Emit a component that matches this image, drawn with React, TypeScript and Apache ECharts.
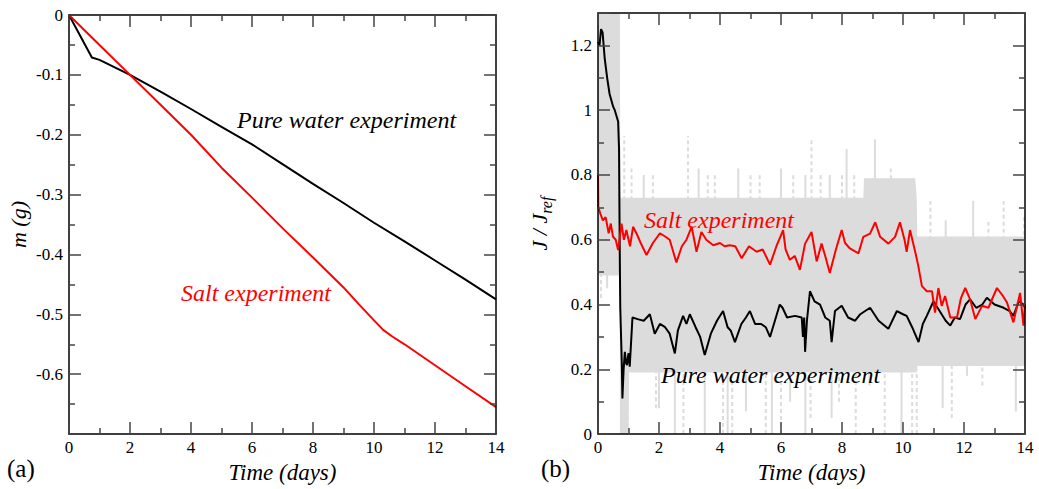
import React, { useEffect, useRef } from "react";
import * as echarts from "echarts";

// ---- Panel (a): mass loss ----
const massT = [0, 0.75, 1.0, 2, 3, 4, 5, 6, 7, 8, 9, 10, 11, 12, 13, 14];
const massPure = [0, -0.071, -0.075, -0.1, -0.128, -0.157, -0.187, -0.216, -0.249, -0.282, -0.314, -0.347, -0.378, -0.41, -0.442, -0.475];
const saltT = [0, 1, 2, 3, 4, 5, 6, 7, 8, 8.5, 9, 9.5, 10, 10.3, 10.6, 11, 12, 13, 14];
const massSalt = [0, -0.05, -0.1, -0.15, -0.2, -0.255, -0.305, -0.356, -0.405, -0.43, -0.455, -0.483, -0.51, -0.526, -0.537, -0.55, -0.585, -0.62, -0.655];

// ---- Panel (b): normalized flux ----
const fluxPure: number[][] = [
  [0, 1.21], [0.05, 1.2], [0.1, 1.25], [0.15, 1.24], [0.22, 1.16], [0.3, 1.1], [0.38, 1.05], [0.5, 1.01], [0.55, 1.0],
  [0.66, 0.965], [0.69, 0.88], [0.71, 0.6], [0.73, 0.39], [0.78, 0.22], [0.8, 0.11], [0.84, 0.2], [0.88, 0.254],
  [0.92, 0.22], [0.95, 0.213], [1.0, 0.25], [1.04, 0.208], [1.13, 0.36], [1.3, 0.355], [1.5, 0.35], [1.7, 0.37],
  [1.86, 0.31], [2.03, 0.34], [2.2, 0.33], [2.35, 0.31], [2.52, 0.249], [2.62, 0.32], [2.79, 0.365], [2.9, 0.34],
  [3.01, 0.37], [3.2, 0.33], [3.35, 0.3], [3.5, 0.244], [3.7, 0.31], [3.9, 0.35], [4.1, 0.38], [4.25, 0.33],
  [4.35, 0.32], [4.49, 0.284], [4.7, 0.34], [4.85, 0.36], [4.98, 0.38], [5.15, 0.34], [5.35, 0.34], [5.5, 0.33],
  [5.64, 0.3], [5.8, 0.35], [5.96, 0.4], [6.05, 0.39], [6.2, 0.36], [6.46, 0.365], [6.68, 0.36], [6.72, 0.3],
  [6.76, 0.36], [6.79, 0.254], [6.85, 0.35], [6.95, 0.441], [7.1, 0.41], [7.28, 0.4], [7.45, 0.36], [7.6, 0.35],
  [7.66, 0.284], [7.77, 0.38], [7.99, 0.396], [8.2, 0.36], [8.43, 0.35], [8.6, 0.37], [8.92, 0.39], [9.2, 0.35],
  [9.52, 0.325], [9.8, 0.38], [10.0, 0.37], [10.12, 0.365], [10.3, 0.33], [10.51, 0.284], [10.65, 0.34],
  [10.78, 0.365], [11.0, 0.41], [11.2, 0.38], [11.4, 0.35], [11.55, 0.335], [11.7, 0.36], [11.87, 0.355],
  [12.05, 0.4], [12.2, 0.416], [12.4, 0.39], [12.6, 0.4], [12.75, 0.421], [13.0, 0.4], [13.3, 0.39], [13.5, 0.38],
  [13.62, 0.365], [13.8, 0.41], [13.95, 0.4], [14, 0.39],
];
const fluxSalt: number[][] = [
  [0, 0.8], [0.01, 0.7], [0.08, 0.68], [0.16, 0.66], [0.25, 0.67], [0.35, 0.62], [0.42, 0.65], [0.49, 0.61],
  [0.58, 0.6], [0.66, 0.568], [0.77, 0.65], [0.85, 0.6], [0.93, 0.63], [1.05, 0.58], [1.15, 0.64], [1.26, 0.62],
  [1.4, 0.59], [1.59, 0.553], [1.8, 0.59], [2.03, 0.62], [2.2, 0.61], [2.35, 0.6], [2.57, 0.53], [2.75, 0.58],
  [2.9, 0.6], [3.07, 0.64], [3.23, 0.563], [3.39, 0.624], [3.55, 0.6], [3.78, 0.583], [4.0, 0.59], [4.15, 0.58],
  [4.32, 0.583], [4.5, 0.58], [4.71, 0.543], [4.95, 0.58], [5.2, 0.563], [5.4, 0.57], [5.64, 0.523], [5.85, 0.58],
  [6.07, 0.63], [6.15, 0.57], [6.29, 0.538], [6.45, 0.55], [6.62, 0.507], [6.79, 0.588], [7.0, 0.624], [7.17, 0.533],
  [7.33, 0.588], [7.45, 0.55], [7.6, 0.497], [7.8, 0.57], [7.99, 0.63], [8.1, 0.59], [8.26, 0.573], [8.54, 0.558],
  [8.7, 0.609], [8.92, 0.619], [9.09, 0.654], [9.25, 0.609], [9.52, 0.588], [9.74, 0.609], [9.9, 0.654], [10.05, 0.6],
  [10.12, 0.563], [10.23, 0.63], [10.4, 0.563], [10.5, 0.52], [10.62, 0.457], [10.78, 0.441], [10.95, 0.441],
  [11.05, 0.375], [11.16, 0.451], [11.27, 0.396], [11.38, 0.426], [11.55, 0.36], [11.77, 0.36], [11.9, 0.42],
  [12.04, 0.451], [12.2, 0.416], [12.37, 0.355], [12.59, 0.396], [12.8, 0.39], [13.08, 0.451], [13.25, 0.43],
  [13.41, 0.406], [13.62, 0.345], [13.75, 0.4], [13.84, 0.436], [13.95, 0.335], [14, 0.4],
];

// raw (unsmoothed) flux scatter: envelope band + individual spikes
const bandT = [0, 0.72, 0.73, 1.0, 1.02, 8.7, 8.72, 10.4, 10.45, 10.47, 14];
const bandLo = [0.49, 0.49, 0, 0, 0.19, 0.19, 0.19, 0.19, 0.19, 0.21, 0.21];
const bandHi = [1.3, 1.3, 0.73, 0.73, 0.73, 0.73, 0.79, 0.79, 0.73, 0.61, 0.61];
const spikeT = [0.1, 0.3, 0.86, 1.1, 1.5, 1.8, 2.95, 3.3, 3.6, 3.83, 4.6, 5.0, 5.3, 6.0, 6.4, 6.8, 7.0, 7.3, 7.6, 8.0, 8.15, 8.4,
  9.08, 9.6, 10.9, 11.4, 12.3, 12.8, 13.3, 13.97,
  0.75, 0.8, 0.9, 0.97, 1.9, 2.0, 2.52, 2.8, 3.5, 4.1, 4.25, 4.4, 4.85, 5.5, 5.7, 6.0, 6.3, 6.8, 6.97, 7.66, 7.9, 8.45,
  8.9, 9.4, 9.95, 10.3, 10.45, 11.3, 11.6, 12.1, 12.6, 13.7];
const spikeLo = [0.42, 0.45, 0.7, 0.7, 0.7, 0.7, 0.7, 0.7, 0.7, 0.7, 0.7, 0.7, 0.7, 0.7, 0.7, 0.7, 0.7, 0.7, 0.7, 0.7, 0.7, 0.7,
  0.7, 0.7, 0.6, 0.6, 0.6, 0.6, 0.6, 0.55,
  0, 0, 0, 0, 0.08, 0.08, 0, 0, 0, 0, 0, 0, 0.07, 0, 0, 0, 0.1, 0, 0.05, 0.05, 0.1, 0,
  0.15, 0, 0, 0, 0, 0.08, 0.05, 0.18, 0.15, 0.07];
const spikeHi = [0.5, 0.5, 0.92, 0.82, 0.8, 0.8, 0.92, 0.82, 0.8, 0.8, 0.82, 0.8, 0.8, 0.82, 0.8, 0.8, 0.91, 0.8, 0.8, 0.8, 0.88, 0.8,
  0.91, 0.82, 0.72, 0.66, 0.72, 0.66, 0.72, 0.68,
  0.5, 0.3, 0.3, 0.3, 0.2, 0.2, 0.2, 0.2, 0.2, 0.2, 0.2, 0.2, 0.2, 0.2, 0.2, 0.2, 0.2, 0.2, 0.2, 0.2, 0.2, 0.2,
  0.2, 0.2, 0.2, 0.2, 0.2, 0.21, 0.21, 0.21, 0.21, 0.21];
const spikeDash = [1, 0, 1, 1, 0, 1, 1, 0, 1, 1, 0, 1, 1, 0, 1, 0, 1, 1, 0, 1, 0, 1,
  0, 1, 1, 0, 0, 1, 1, 1,
  0, 0, 1, 1, 1, 0, 0, 1, 0, 1, 0, 1, 0, 1, 0, 1, 0, 0, 1, 0, 1, 1,
  0, 1, 0, 1, 1, 0, 1, 0, 1, 0];

const xTicks = { min: 0, max: 14, interval: 2 };
const FONT = "'Liberation Serif', 'Times New Roman', Times, serif";
const GRAY = "#dcdcdc";

function makeX(gridIndex: number, position: "bottom" | "top", name?: string) {
  const labels = position === "bottom";
  return {
    type: "value",
    gridIndex,
    position,
    z: 10,
    ...xTicks,
    name: labels ? name : undefined,
    nameLocation: "middle",
    nameGap: 19,
    nameTextStyle: { fontFamily: FONT, fontStyle: "italic", fontSize: 23, color: "#000" },
    axisLine: { show: true, onZero: false, lineStyle: { color: "#000", width: 1.5 } },
    axisTick: { show: true, inside: true, length: 12, lineStyle: { color: "#444", width: 1.5 } },
    minorTick: { show: true, splitNumber: 2, length: 6, lineStyle: { color: "#444", width: 1.5 } },
    axisLabel: { show: labels, fontFamily: FONT, fontSize: 17, color: "#000", margin: 5 },
    splitLine: { show: false },
  };
}

function makeY(gridIndex: number, position: "left" | "right", min: number, max: number, interval: number,
  fmt: (v: number) => string, name?: any, rich?: any) {
  const labels = position === "left";
  return {
    type: "value",
    gridIndex,
    position,
    z: 10,
    min,
    max,
    interval,
    name: labels ? name : undefined,
    nameLocation: "middle",
    nameGap: 40,
    nameTextStyle: { fontFamily: FONT, fontStyle: "italic", fontSize: 22, color: "#000", rich },
    axisLine: { show: true, onZero: false, lineStyle: { color: "#000", width: 1.5 } },
    axisTick: { show: true, inside: true, length: 12, lineStyle: { color: "#444", width: 1.5 } },
    minorTick: { show: true, splitNumber: 2, length: 6, lineStyle: { color: "#444", width: 1.5 } },
    axisLabel: { show: labels, fontFamily: FONT, fontSize: 17, color: "#000", margin: 6, formatter: fmt },
    splitLine: { show: false },
  };
}

export default function App() {
  const ref = useRef<HTMLDivElement>(null);
  useEffect(() => {
    if (!ref.current) return;
    const chart = echarts.init(ref.current, undefined, { renderer: "svg" });
    const fmtA = (v: number) => (v < -0.65 ? "" : String(Math.round(v * 10) / 10));
    const fmtB = (v: number) => (v > 1.25 ? "" : String(Math.round(v * 10) / 10));
    const text = (x: number, y: number, s: string, color: string) => ({
      type: "text",
      x,
      y,
      z: 20,
      style: { text: s, fill: color, fontFamily: FONT, fontStyle: "italic", fontSize: 24, verticalAlign: "middle" },
    });
    chart.setOption({
      animation: false,
      backgroundColor: "#fff",
      grid: [
        { left: 69, top: 15, width: 427, height: 427 },
        { left: 598, top: 13, width: 427, height: 427 },
      ],
      xAxis: [
        makeX(0, "bottom", "Time (days)"),
        makeX(0, "top"),
        makeX(1, "bottom", "Time (days)"),
        makeX(1, "top"),
      ],
      yAxis: [
        makeY(0, "left", -0.7, 0, 0.1, fmtA, "m (g)"),
        makeY(0, "right", -0.7, 0, 0.1, fmtA),
        makeY(1, "left", 0, 1.3, 0.2, fmtB, "{m|J / J}{s|ref}", {
          m: { fontFamily: FONT, fontStyle: "italic", fontSize: 22, color: "#000", verticalAlign: "top", lineHeight: 30 },
          s: { fontFamily: FONT, fontStyle: "italic", fontSize: 16, color: "#000", verticalAlign: "top", lineHeight: 30, padding: [10, 0, 0, 0] },
        }),
        makeY(1, "right", 0, 1.3, 0.2, fmtB),
      ],
      graphic: [
        text(237, 120, "Pure water experiment", "#000"),
        text(181, 293, "Salt experiment", "#ff0000"),
        text(644, 220, "Salt experiment", "#ff0000"),
        text(661, 375, "Pure water experiment", "#000"),
        { type: "text", x: 7, y: 468, style: { text: "(a)", fill: "#000", fontFamily: FONT, fontSize: 25, verticalAlign: "middle" } },
        { type: "text", x: 541, y: 468, style: { text: "(b)", fill: "#000", fontFamily: FONT, fontSize: 25, verticalAlign: "middle" } },
      ],
      series: [
        {
          type: "line", xAxisIndex: 0, yAxisIndex: 0, showSymbol: false, symbol: "none",
          data: massT.map((t, i) => [t, massPure[i]]),
          lineStyle: { color: "#000", width: 2 },
        },
        {
          type: "line", xAxisIndex: 0, yAxisIndex: 0, showSymbol: false, symbol: "none",
          data: saltT.map((t, i) => [t, massSalt[i]]),
          lineStyle: { color: "#ff0000", width: 2 },
        },
        {
          type: "custom", xAxisIndex: 2, yAxisIndex: 2, clip: true,
          data: [[0, 0]],
          renderItem: (params: any, api: any) => {
            const upper = bandT.map((t, i) => api.coord([t, bandHi[i]]));
            const lower = bandT.map((t, i) => api.coord([t, bandLo[i]])).reverse();
            return {
              type: "polygon",
              shape: { points: upper.concat(lower) },
              style: { fill: GRAY, stroke: "none" },
            };
          },
        },
        {
          type: "custom", xAxisIndex: 2, yAxisIndex: 2, clip: true,
          data: spikeT.map((t, i) => [t, spikeLo[i], spikeHi[i], spikeDash[i]]),
          renderItem: (params: any, api: any) => {
            const p1 = api.coord([api.value(0), api.value(1)]);
            const p2 = api.coord([api.value(0), api.value(2)]);
            return {
              type: "line",
              shape: { x1: p1[0], y1: p1[1], x2: p2[0], y2: p2[1] },
              style: { stroke: GRAY, lineWidth: 2, lineDash: api.value(3) ? [4, 3] : null },
            };
          },
        },
        {
          type: "line", xAxisIndex: 2, yAxisIndex: 2, showSymbol: false, symbol: "none",
          data: fluxPure,
          lineStyle: { color: "#000", width: 2 },
        },
        {
          type: "line", xAxisIndex: 2, yAxisIndex: 2, showSymbol: false, symbol: "none",
          data: fluxSalt,
          lineStyle: { color: "#ff0000", width: 2 },
        },
      ],
    });
    return () => chart.dispose();
  }, []);
  return (
    <div
      ref={ref}
      style={{ position: "absolute", left: 0, top: 0, width: 1039, height: 489, background: "#fff" }}
    />
  );
}
